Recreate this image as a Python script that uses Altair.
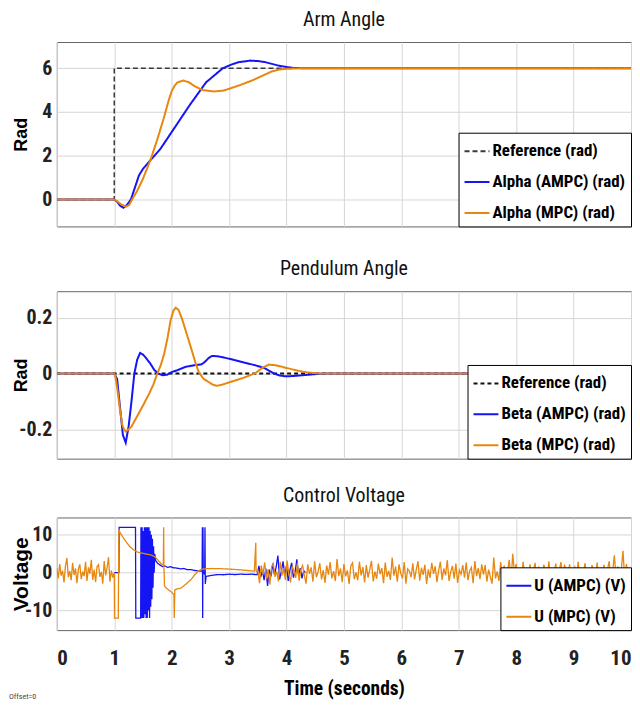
import altair as alt
import pandas as pd

FONT_N = "Liberation Sans Narrow, Roboto Condensed, DejaVu Sans Condensed, Liberation Sans, sans-serif"
FONT_B = "Liberation Sans, Arial, sans-serif"
BLUE = "#1414F5"
ORANGE = "#E8870E"

# ---------------- Arm angle ----------------
ref1_t = [0, 1.0, 1.0, 10]
ref1_v = [0, 0, 6, 6]
alpha_ampc_t = [0, 1.0, 1.05, 1.1, 1.16, 1.22, 1.29, 1.36, 1.43, 1.5, 1.63, 1.8, 2.03, 2.31, 2.6,
                2.89, 3.05, 3.17, 3.37, 3.5, 3.63, 3.86, 4.09, 4.3, 4.6, 10]
alpha_ampc = [0, 0, -0.1, -0.28, -0.38, -0.25, 0.0, 0.55, 1.1, 1.4, 1.8, 2.3, 3.2, 4.3, 5.36,
              6.0, 6.18, 6.28, 6.35, 6.33, 6.28, 6.12, 6.02, 6.0, 6.0, 6.0]
alpha_mpc_t = [0, 1.0, 1.05, 1.12, 1.2, 1.26, 1.31, 1.4, 1.5, 1.63, 1.75, 1.86, 1.95, 2.0, 2.05,
               2.1, 2.2, 2.3, 2.4, 2.54, 2.74, 2.9, 3.0, 3.2, 3.4, 3.6, 3.74, 3.85, 3.97, 4.26, 4.6, 10]
alpha_mpc = [0, 0, -0.08, -0.22, -0.33, -0.25, 0.0, 0.4, 0.95, 1.8, 2.75, 3.7, 4.55, 4.95, 5.2,
             5.35, 5.44, 5.36, 5.18, 5.0, 4.94, 4.98, 5.06, 5.24, 5.44, 5.68, 5.85, 5.93, 5.97, 6.0, 6.0, 6.0]

# ---------------- Pendulum angle ----------------
ref2_t = [0, 10]
ref2_v = [0, 0]
beta_ampc_t = [0, 1.0, 1.05, 1.1, 1.15, 1.2, 1.25, 1.3, 1.35, 1.4, 1.45, 1.5, 1.56, 1.63, 1.7, 1.77,
               1.84, 1.92, 2.01, 2.1, 2.24, 2.4, 2.52, 2.58, 2.64, 2.7, 2.8, 2.92, 3.1, 3.27, 3.45,
               3.61, 3.7, 3.78, 3.88, 3.98, 4.1, 4.29, 4.45, 4.63, 10]
beta_ampc = [0, 0, -0.02, -0.12, -0.22, -0.248, -0.19, -0.1, 0.0, 0.05, 0.074, 0.068, 0.054, 0.035,
             0.012, 0.0, -0.006, -0.004, 0.006, 0.012, 0.024, 0.03, 0.033, 0.042, 0.055, 0.063, 0.062,
             0.057, 0.048, 0.039, 0.03, 0.02, 0.01, 0.0, -0.007, -0.01, -0.009, -0.006, -0.003, 0.0, 0.0]
beta_mpc_t = [0, 1.0, 1.02, 1.05, 1.1, 1.14, 1.17, 1.2, 1.25, 1.3, 1.38, 1.5, 1.61, 1.68, 1.75, 1.81,
              1.87, 1.93, 1.98, 2.03, 2.07, 2.12, 2.18, 2.25, 2.35, 2.42, 2.47, 2.55, 2.64, 2.72, 2.78,
              2.88, 2.98, 3.12, 3.27, 3.46, 3.58, 3.69, 3.8, 3.89, 4.0, 4.12, 4.25, 4.35, 4.58, 10]
beta_mpc = [0, 0, -0.01, -0.05, -0.13, -0.185, -0.2, -0.208, -0.2, -0.19, -0.16, -0.115, -0.071,
            -0.04, 0.0, 0.03, 0.071, 0.13, 0.19, 0.225, 0.236, 0.228, 0.196, 0.15, 0.083, 0.035, 0.006,
            -0.018, -0.03, -0.04, -0.044, -0.04, -0.033, -0.024, -0.014, 0.002, 0.02, 0.032, 0.03,
            0.026, 0.02, 0.014, 0.008, 0.004, 0.0, 0.0]

# ---------------- Control voltage ----------------
# MPC: measured noise before the step (every 0.025 s from t=0)
u_mpc_pre = [1.2, -1.5, 2.3, -0.8, 0.5, -2.6, 1.8, 3.9, -1.2, 0.4,
             -2.0, 2.6, -0.6, 1.1, -2.8, 0.9, 2.2, -1.7, 0.3, -0.9,
             2.9, -2.2, 1.4, -0.3, 3.4, -1.9, 0.8, -2.5, 1.6, 2.1,
             -1.1, 0.2, -2.9, 3.1, -0.7, 1.3, 4.1, -2.4, 0.6, -1.3]
u_mpc_trans_t = [1.0, 1.005, 1.07, 1.08, 1.1, 1.15, 1.2, 1.27, 1.33, 1.4, 1.47, 1.54, 1.6, 1.66, 1.72,
                 1.78, 1.83, 1.855, 1.86, 1.865, 1.875, 1.9, 1.95, 2.0, 2.04, 2.045, 2.055, 2.06, 2.1,
                 2.17, 2.25, 2.34, 2.4, 2.46, 2.52, 2.6, 2.7, 2.86, 3.0, 3.14, 3.3, 3.44, 3.465, 3.47, 3.48]
u_mpc_trans = [0.0, -12.0, -12.0, 11.5, 10.6, 9.4, 8.3, 6.9, 6.1, 5.5, 5.2, 5.0, 4.8, 4.6, 4.0,
               3.0, 2.2, 2.0, 12.0, 2.0, -3.5, -4.0, -4.6, -5.2, -5.8, -12.0, -4.6, -4.5, -4.3,
               -4.0, -3.0, -1.75, -0.6, 0.4, 0.9, 1.05, 1.1, 1.05, 0.95, 0.8, 0.6, 0.4, 7.9, 0.5, 0.3]
# MPC: measured noise after t=3.5 (every 0.03 s)
u_mpc_post = [0.6, -2.8, 1.9, -0.4, 2.7, -1.6, 0.9, -3.1, 1.5, 2.4,
              -1.1, 0.3, -2.3, 2.9, -0.8, 1.2, -1.9, 3.2, -0.2, -2.6,
              1.7, 0.5, -1.4, 2.6, -2.1, 0.8, 1.9, -0.6, -2.9, 2.2,
              -0.3, 1.4, -2.4, 3.0, -1.2, 0.2, 2.5, -1.8, 0.7, -2.7,
              1.9, -0.5, 2.8, -1.5, 0.4, -2.2, 3.6, -0.9, 1.1, -2.5,
              2.3, -1.0, 0.6, -3.0, 1.8, 2.6, -1.7, 0.1, -2.0, 2.9,
              -0.7, 1.5, -2.6, 2.0, -1.3, 0.9, 3.1, -2.3, 0.3, -1.6,
              2.4, -0.4, 1.2, -2.8, 2.7, -1.1, 0.5, -1.9, 4.0, -0.8,
              1.6, -2.4, 2.2, -0.2, -1.5, 2.8, -2.9, 1.0, 0.4, -1.2,
              2.5, -1.8, 0.8, 3.0, -2.1, 1.3, -0.6, 2.1, -3.0, 0.9,
              -1.4, 2.6, -0.3, 1.7, -2.5, 0.6, 2.9, -1.9, 1.1, -0.7,
              3.3, -2.2, 0.2, 1.8, -1.6, 2.4, -2.7, 0.7, -0.4, 2.0,
              -1.3, 2.7, -2.0, 0.5, 1.4, -2.8, 3.1, -0.9, 1.2, -1.7,
              2.2, -0.5, 2.0, -2.4, 0.8, -1.1, -2.9, 4.0, -1.5, 0.3,
              -2.2, 2.8, -0.8, 1.9, -1.5, 0.4, 3.4, -2.6, 5.0, -0.2,
              2.3, -1.9, 0.7, -2.7, 2.9, -0.6, 1.3, -2.1, 2.2, -1.0,
              0.5, 2.6, -2.3, 1.6, -0.4, -2.9, 2.1, 0.9, -1.4, 3.0,
              -2.5, 1.2, -0.1, 2.4, -1.7, 0.6, 2.8, -2.2, 1.9, 1.1,
              -0.8, 2.2, -2.6, 0.4, 1.5, -1.2, 2.9, -2.0, 0.7, -0.3,
              2.5, -1.6, 1.0, -2.8, 2.0, 0.2, -1.4, 2.7, -2.3, 1.3,
              -0.5, 2.1, -1.9, 0.8, 3.0, -2.4, 0.3, 4.6, -1.1, 1.7,
              -2.0, 0.6, 5.8, -1.5, 2.3, -0.9, 1.4]
# AMPC transient (saturation and chattering)
u_ampc_trans_t = [1.0, 1.08, 1.085, 1.37, 1.375, 1.46,
                  1.465, 1.475, 1.485, 1.495, 1.505, 1.515, 1.525, 1.535, 1.545, 1.555,
                  1.565, 1.575, 1.585, 1.595, 1.605, 1.615, 1.625, 1.635, 1.645, 1.655,
                  1.665, 1.675, 1.685, 1.695, 1.705,
                  1.72, 1.76, 1.8, 1.84, 1.88, 1.93, 1.98, 2.03, 2.09, 2.15, 2.21, 2.27, 2.33,
                  2.39, 2.45, 2.5, 2.53, 2.535, 2.54, 2.545, 2.55, 2.575, 2.58, 2.585, 2.6, 2.63,
                  2.7, 2.8, 2.9, 3.0, 3.1, 3.2, 3.3, 3.4, 3.46]
u_ampc_trans = [0, 0, 12, 12, -12, -12,
                12, -12, 12, -12, 11, -12, 12, -11, 12, -12,
                12, -12, 12, -10, 12, -12, 11, -9, 10, -7,
                9, -4, 7, 0, 5,
                3.2, 2.4, 2.0, 1.6, 1.8, 1.4, 1.6, 1.3, 1.2, 1.0, 1.1, 0.8, 0.8,
                0.6, 0.5, 0.4, 0.4, 12, -12, 12, 0.2, -0.5, 12, -3, -1.0, -0.9,
                -0.7, -0.5, -0.55, -0.4, -0.5, -0.4, -0.45, -0.4, -0.5]
# AMPC: measured noise after t=3.49 (every 0.03 s)
u_ampc_post = [-0.5, 1.8, -1.2, 0.6, -2.0, 1.1, -3.5, 0.8, -1.0, 2.4,
               -0.6, 1.5, 4.5, -1.8, 0.4, 3.0, -0.9, 1.9, -2.2, 0.7,
               2.6, -1.3, 0.2, 3.5, -0.8, 1.2, -1.5, 0.5, 0.0]

S1 = ["Reference (rad)", "Alpha (AMPC) (rad)", "Alpha (MPC) (rad)"]
S2 = ["Reference (rad)", "Beta (AMPC) (rad)", "Beta (MPC) (rad)"]
S3 = ["U (AMPC) (V)", "U (MPC) (V)"]


def sdf(t, v, name):
    return pd.DataFrame({"t": t, "v": v, "series": name, "i": list(range(len(t)))})


def sampled(start, step, vals):
    return [round(start + step * k, 4) for k in range(len(vals))]


W = 576
GRID = "#d6d6d6"


def yaxis(ticks, title, h, tsize, neg=False):
    kw = {}
    if neg:
        kw["labelExpr"] = "(datum.value < 0 ? '-' : '') + format(abs(datum.value), '~g')"
    return alt.Axis(values=ticks, title=title, titleFont=FONT_B, titleFontWeight="bold",
                    titleFontSize=tsize, titleColor="#000", titleAngle=270, titleX=-35, titleY=h / 2,
                    titleAlign="center", titleBaseline="middle",
                    labelFont=FONT_N, labelFontWeight="bold", labelFontSize=20, labelColor="#222",
                    labelPadding=5, ticks=False, domain=False, grid=True, gridColor=GRID, **kw)


def xaxis_hidden(ext):
    return alt.Axis(values=list(range(11)), labels=False, ticks=False, domain=False, grid=True,
                    gridColor=GRID, title=None, minExtent=ext, maxExtent=ext)


xaxis_bottom = alt.Axis(values=list(range(11)), ticks=False, domain=False, grid=True, gridColor=GRID,
                        labelFont=FONT_N, labelFontWeight="bold", labelFontSize=21, labelColor="#222",
                        labelPadding=17, labelFlush=True, title="Time (seconds)", titleFont=FONT_N,
                        titleFontWeight="bold", titleFontSize=19.5, titleColor="#000", titlePadding=12)


def panel(dfs, names, colors, dashes, widths, ydom, yticks, ytitle, h, xax, tsize, neg=False):
    color = alt.Color("series:N", scale=alt.Scale(domain=names, range=colors), legend=alt.Legend(title=None))
    dash = alt.StrokeDash("series:N", scale=alt.Scale(domain=names, range=dashes), legend=alt.Legend(title=None))
    layers = []
    for df, sw in zip(dfs, widths):
        layers.append(
            alt.Chart(df).mark_line(strokeWidth=sw, clip=True).encode(
                x=alt.X("t:Q", scale=alt.Scale(domain=[0, 10], nice=False), axis=xax),
                y=alt.Y("v:Q", scale=alt.Scale(domain=ydom, nice=False, zero=False),
                        axis=yaxis(yticks, ytitle, h, tsize, neg)),
                color=color, strokeDash=dash, order="i:Q"))
    return layers


def ttl(text):
    return alt.TitleParams(text, font=FONT_N, fontSize=20, fontWeight="normal", color="#111", offset=12)


p1 = alt.layer(*panel(
    [sdf(ref1_t, ref1_v, S1[0]), sdf(alpha_ampc_t, alpha_ampc, S1[1]), sdf(alpha_mpc_t, alpha_mpc, S1[2])],
    S1, ["#3a3a3a", BLUE, ORANGE], [[5, 3], [1, 0], [1, 0]], [1.5, 2, 2],
    [-1.23, 7.2], [0, 2, 4, 6], "Rad", 185, xaxis_hidden(6), 18)).properties(
    title=ttl("Arm Angle"), width=W, height=185)

p2 = alt.layer(*panel(
    [sdf(ref2_t, ref2_v, S2[0]), sdf(beta_ampc_t, beta_ampc, S2[1]), sdf(beta_mpc_t, beta_mpc, S2[2])],
    S2, ["#111111", BLUE, ORANGE], [[4, 3], [1, 0], [1, 0]], [2, 2, 2],
    [-0.305, 0.295], [-0.2, 0, 0.2], "Rad", 168, xaxis_hidden(0), 18, neg=True)).properties(
    title=ttl("Pendulum Angle"), width=W, height=168)

mpc_t = sampled(0.0, 0.025, u_mpc_pre) + u_mpc_trans_t + sampled(3.5, 0.03, u_mpc_post)
mpc_v = u_mpc_pre + u_mpc_trans + u_mpc_post
ampc_t = u_ampc_trans_t + sampled(3.49, 0.03, u_ampc_post)
ampc_v = u_ampc_trans + u_ampc_post

layers3 = panel(
    [sdf(ampc_t, ampc_v, S3[0]), sdf(mpc_t, mpc_v, S3[1])],
    S3, [BLUE, ORANGE], [[1, 0], [1, 0]], [1.3, 1.3],
    [-15.2, 14.6], [-10, 0, 10], "Voltage", 113, xaxis_bottom, 21, neg=True)
note = alt.Chart(pd.DataFrame({"s": ["Offset=0"]})).mark_text(
    align="left", baseline="bottom", fontSize=8, font=FONT_N, color="#444").encode(
    x=alt.value(-48), y=alt.value(184), text="s:N")
p3 = alt.layer(*layers3, note).properties(title=ttl("Control Voltage"), width=W, height=113)

chart = alt.vconcat(p1, p2, p3, spacing=25).resolve_scale(
    color="independent", strokeDash="independent").resolve_legend(
    color="independent", strokeDash="independent").properties(
    padding={"left": 0, "top": 0, "right": 0, "bottom": 0}, background="white"
).configure_view(stroke="#666", strokeWidth=1).configure_legend(
    orient="bottom-right", offset=0, strokeColor="#000", fillColor="white", padding=5,
    labelFont=FONT_N, labelFontSize=17, labelFontWeight="bold", labelColor="#000",
    symbolType="stroke", symbolSize=625, symbolStrokeWidth=2, labelOffset=2, rowPadding=9,
    cornerRadius=0, labelLimit=300)

chart.save("out.html", embed_options={"renderer": "svg", "actions": False})
